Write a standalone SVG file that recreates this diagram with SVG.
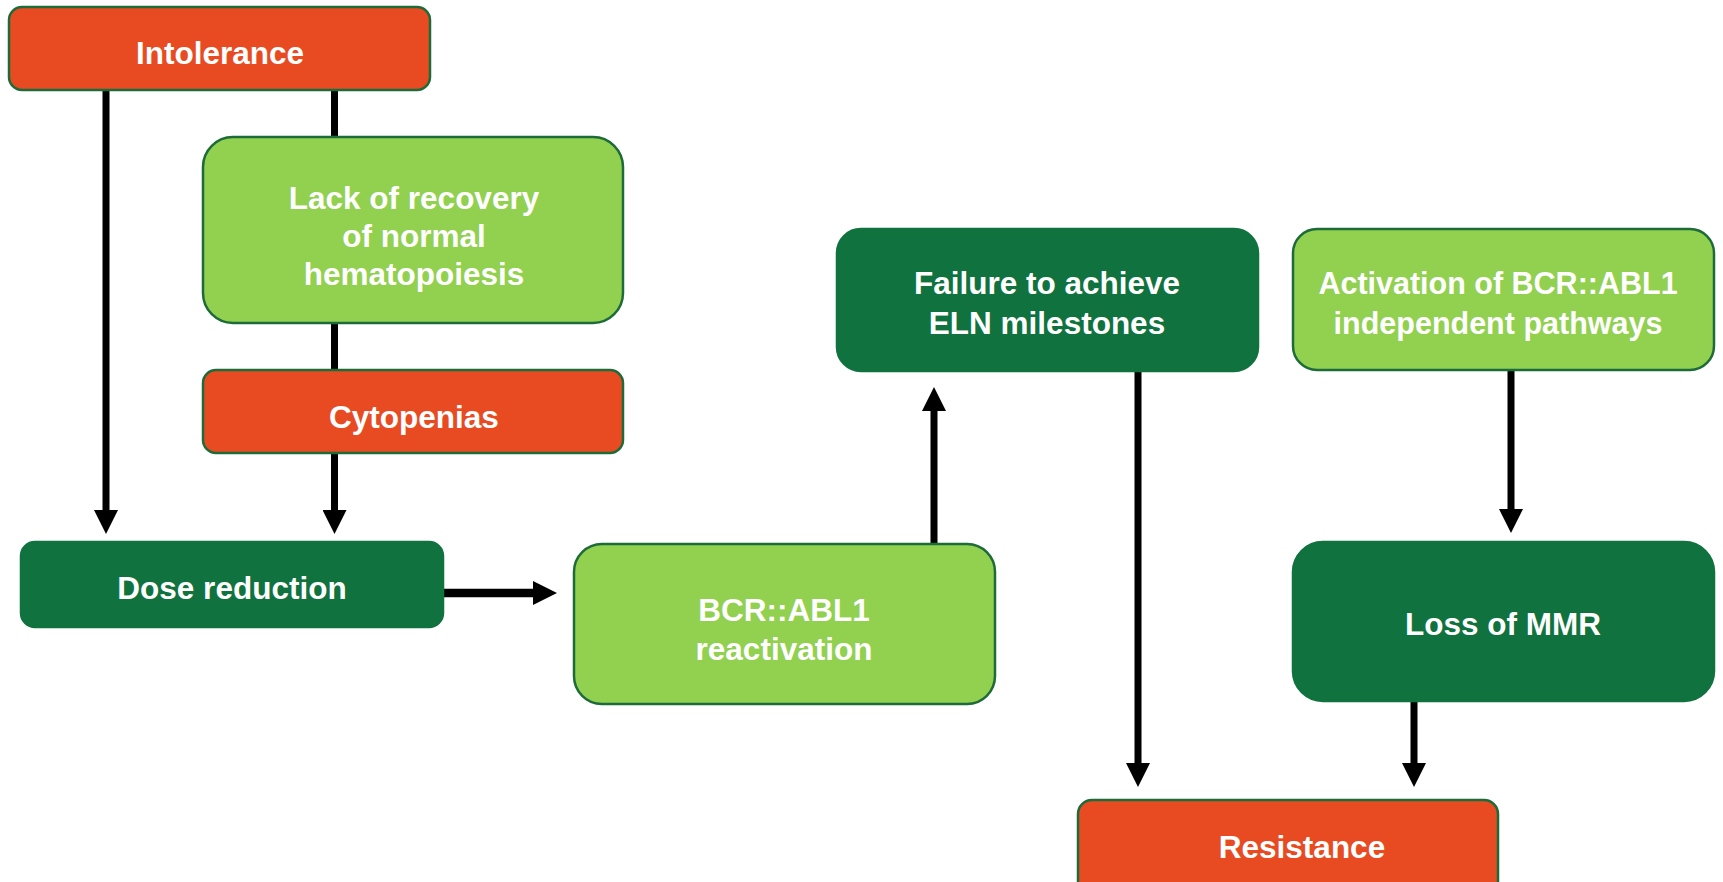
<svg xmlns="http://www.w3.org/2000/svg" width="1723" height="882" viewBox="0 0 1723 882">
<style>
.red{fill:#E84B22;stroke:#1D6B38;stroke-width:2.5}
.dk{fill:#10723E;stroke:#10723E;stroke-width:2.5}
.lt{fill:#92D050;stroke:#1D6B38;stroke-width:2.5}
text{font-family:"Liberation Sans",Arial,sans-serif;font-weight:bold;font-size:31.5px;fill:#fff;text-anchor:middle}
.c{stroke:#000;stroke-width:7;fill:none}
.h{stroke:#000;stroke-width:8.5;fill:none}
</style>
<defs>
<marker id="ah" markerUnits="userSpaceOnUse" markerWidth="24" markerHeight="24" refX="0" refY="12" orient="auto" viewBox="0 0 24 24">
<path d="M0,0 L24,12 L0,24 Z" fill="#000"/>
</marker>
</defs>
<rect width="1723" height="882" fill="#fff"/>
<g id="connectors">
<path class="c" d="M106,90 V510" marker-end="url(#ah)"/>
<path class="c" d="M334.5,90 V510" marker-end="url(#ah)"/>
<path class="h" d="M443,593 H533" marker-end="url(#ah)"/>
<path class="c" d="M934,544 V411" marker-end="url(#ah)"/>
<path class="c" d="M1138,371 V763" marker-end="url(#ah)"/>
<path class="c" d="M1511,370 V509" marker-end="url(#ah)"/>
<path class="c" d="M1414,701 V763" marker-end="url(#ah)"/>
</g>
<g id="intolerance">
<rect class="red" x="9" y="7" width="421" height="83" rx="13"/>
<text x="220" y="64">Intolerance</text>
</g>
<g id="lack">
<rect class="lt" x="203" y="137" width="420" height="186" rx="30"/>
<text x="414" y="209">Lack of recovery</text>
<text x="414" y="247">of normal</text>
<text x="414" y="285">hematopoiesis</text>
</g>
<g id="cytopenias">
<rect class="red" x="203" y="370" width="420" height="83" rx="13"/>
<text x="414" y="428">Cytopenias</text>
</g>
<g id="dose">
<rect class="dk" x="21" y="542" width="422" height="85" rx="14"/>
<text x="232" y="599">Dose reduction</text>
</g>
<g id="reactivation">
<rect class="lt" x="574" y="544" width="421" height="160" rx="28"/>
<text x="784" y="621">BCR::ABL1</text>
<text x="784" y="660">reactivation</text>
</g>
<g id="failure">
<rect class="dk" x="837" y="229" width="421" height="142" rx="24"/>
<text x="1047" y="294">Failure to achieve</text>
<text x="1047" y="334">ELN milestones</text>
</g>
<g id="activation">
<rect class="lt" x="1293" y="229" width="421" height="141" rx="24"/>
<text x="1498" y="294" style="font-size:30.5px">Activation of BCR::ABL1</text>
<text x="1498" y="334" style="font-size:30.5px">independent pathways</text>
</g>
<g id="loss">
<rect class="dk" x="1293" y="542" width="421" height="159" rx="30"/>
<text x="1503" y="635">Loss of MMR</text>
</g>
<g id="resistance">
<rect class="red" x="1078" y="800" width="420" height="100" rx="14"/>
<text x="1302" y="858">Resistance</text>
</g>
</svg>
